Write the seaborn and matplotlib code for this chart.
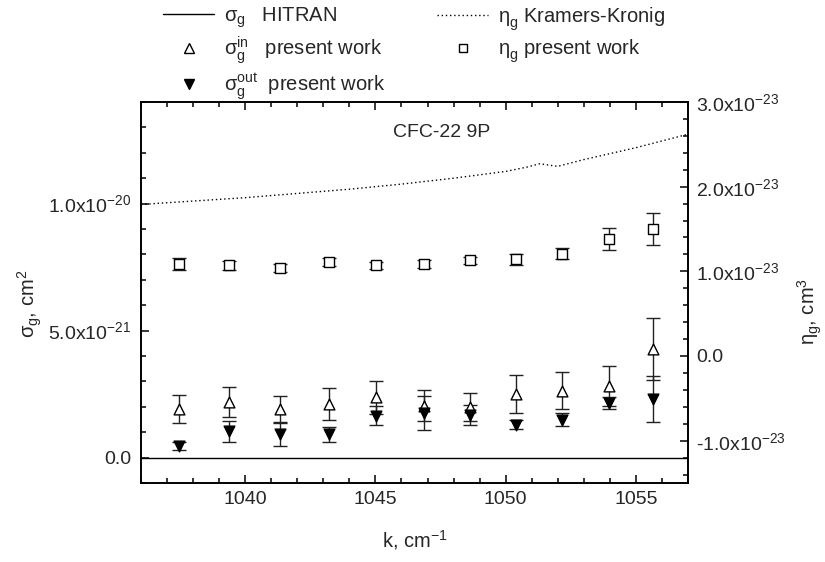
import matplotlib
matplotlib.use("Agg")
import matplotlib.pyplot as plt
import seaborn as sns
import numpy as np
import pandas as pd
from matplotlib.ticker import FixedLocator, FixedFormatter, MultipleLocator
from matplotlib.lines import Line2D

# ---------------- data ----------------
k_meas = [1037.47, 1039.39, 1041.33, 1043.21, 1045.02, 1046.87, 1048.62, 1050.41, 1052.18, 1053.95, 1055.65]
# sigma values in units of 1e-21 cm^2
sigma_in = [1.92, 2.18, 1.92, 2.11, 2.37, 2.05, 2.00, 2.51, 2.64, 2.81, 4.29]
sigma_in_err = [0.56, 0.60, 0.52, 0.62, 0.66, 0.62, 0.56, 0.75, 0.72, 0.78, 1.22]
sigma_out = [0.47, 1.04, 0.91, 0.91, 1.65, 1.76, 1.69, 1.30, 1.50, 2.15, 2.32]
sigma_out_err = [0.16, 0.41, 0.46, 0.28, 0.37, 0.66, 0.39, 0.18, 0.26, 0.25, 0.91]
# eta values in units of 1e-23 cm^3
eta_meas = [1.09, 1.07, 1.04, 1.11, 1.07, 1.09, 1.13, 1.14, 1.21, 1.38, 1.50]
eta_err = [0.07, 0.05, 0.05, 0.045, 0.045, 0.045, 0.045, 0.06, 0.07, 0.13, 0.19]

k_hitran = [1036.0, 1057.0]
sigma_hitran = [0.0, 0.0]

k_kk = [1036, 1038, 1040, 1042, 1044, 1046, 1048, 1050, 1050.8, 1051.3, 1052.0, 1053, 1055, 1057]
eta_kk = [1.79, 1.83, 1.87, 1.92, 1.97, 2.03, 2.10, 2.18, 2.23, 2.27, 2.24, 2.32, 2.46, 2.62]

left_ticks = [0, 5, 10]
left_labels = ["0.0", r"5.0x10$^{-21}$", r"1.0x10$^{-20}$"]
right_ticks = [-1, 0, 1, 2, 3]
right_labels = [r"-1.0x10$^{-23}$", "0.0", r"1.0x10$^{-23}$", r"2.0x10$^{-23}$", r"3.0x10$^{-23}$"]
x_ticks = [1040, 1045, 1050, 1055]

# ---------------- style ----------------
sns.set_theme(style="ticks")
plt.rcParams["font.family"] = ["Liberation Sans", "DejaVu Sans"]
plt.rcParams["mathtext.fontset"] = "custom"
plt.rcParams["mathtext.rm"] = "Liberation Sans"
plt.rcParams["mathtext.it"] = "Liberation Sans:italic"
plt.rcParams["mathtext.default"] = "regular"

FS_TICK = 14
FS_LAB = 14.5
FS_LEG = 14.5

fig, ax = plt.subplots(figsize=(8.25, 5.62), dpi=100)
fig.subplots_adjust(left=141 / 825, right=688 / 825, bottom=1 - 483 / 562, top=1 - 102 / 562)

# HITRAN line
sns.lineplot(x=k_hitran, y=sigma_hitran, ax=ax, color="black", lw=1.0, legend=False)

# sigma in / out error bars and markers
ax.errorbar(k_meas, sigma_in, yerr=sigma_in_err, fmt="none", ecolor="#222222",
            elinewidth=1.0, capsize=5, capthick=1.0, zorder=2)
ax.errorbar(k_meas, sigma_out, yerr=sigma_out_err, fmt="none", ecolor="#222222",
            elinewidth=1.0, capsize=5, capthick=1.0, zorder=2)
sns.scatterplot(x=k_meas, y=sigma_in, ax=ax, marker="^", s=60, facecolor="white",
                edgecolor="black", linewidth=1.0, zorder=3, legend=False)
sns.scatterplot(x=k_meas, y=sigma_out, ax=ax, marker="v", s=60, color="black",
                edgecolor="black", linewidth=1.0, zorder=3, legend=False)

ax2 = ax.twinx()
sns.lineplot(x=k_kk, y=eta_kk, ax=ax2, color="black", lw=1.0, linestyle=(0, (1, 2)), legend=False)
ax2.errorbar(k_meas, eta_meas, yerr=eta_err, fmt="none", ecolor="#222222",
             elinewidth=1.0, capsize=5, capthick=1.0, zorder=2)
sns.scatterplot(x=k_meas, y=eta_meas, ax=ax2, marker="s", s=45, facecolor="white",
                edgecolor="black", linewidth=1.0, zorder=3, legend=False)

# ---------------- axes ----------------
ax.set_xlim(1036, 1057)
ax.set_ylim(-1, 14)
ax2.set_ylim(-1.5, 3.0)

ax.xaxis.set_major_locator(FixedLocator(x_ticks))
ax.xaxis.set_minor_locator(MultipleLocator(1))
ax.yaxis.set_major_locator(FixedLocator(left_ticks))
ax.yaxis.set_major_formatter(FixedFormatter(left_labels))
ax.yaxis.set_minor_locator(MultipleLocator(1))
ax2.yaxis.set_major_locator(FixedLocator(right_ticks))
ax2.yaxis.set_major_formatter(FixedFormatter(right_labels))
ax2.yaxis.set_minor_locator(MultipleLocator(0.2))

ax.tick_params(axis="x", which="both", direction="in", top=True, bottom=True,
               labelsize=FS_TICK, pad=6, color="black")
ax.tick_params(axis="y", which="both", direction="in", left=True, right=False,
               labelsize=FS_TICK, pad=7, color="black")
ax2.tick_params(axis="y", which="both", direction="in", right=True,
                labelsize=FS_TICK, pad=6, color="black")
for a in (ax, ax2):
    a.tick_params(which="major", length=6, width=1.1)
    a.tick_params(which="minor", length=3.5, width=1.1)
    for s in a.spines.values():
        s.set_linewidth(1.2)
        s.set_color("black")
    a.set_xlabel("")
    a.set_ylabel("")

ax.set_xlabel(r"k, cm$^{-1}$", fontsize=FS_LAB)
ax.xaxis.set_label_coords(0.5, -(540 - 483) / 381)
ax.xaxis.label.set_va("center")
ax.set_ylabel(r"$\sigma_g$, cm$^2$", fontsize=FS_LAB)
ax.yaxis.set_label_coords((30 - 141) / 547, 0.47)
ax.yaxis.label.set_va("center")
ax2.set_ylabel(r"$\eta_g$, cm$^3$", fontsize=FS_LAB, rotation=90)
ax2.yaxis.set_label_coords((810 - 141) / 547, 0.45)
ax2.yaxis.label.set_va("center")

ax.text(0.55, 0.92, "CFC-22 9P", transform=ax.transAxes, ha="center", va="center", fontsize=14)

# ---------------- legends ----------------
h1 = [Line2D([], [], color="black", lw=1.0),
      Line2D([], [], ls="none", marker="^", ms=7, mfc="white", mec="black", mew=1.0),
      Line2D([], [], ls="none", marker="v", ms=7, mfc="black", mec="black", mew=1.0)]
l1 = [r"$\sigma_g$   HITRAN", r"$\sigma_g^{in}$   present work", r"$\sigma_g^{out}$  present work"]
h2 = [Line2D([], [], color="black", lw=1.0, ls=(0, (1, 2))),
      Line2D([], [], ls="none", marker="s", ms=6, mfc="white", mec="black", mew=1.0)]
l2 = [r"$\eta_g^{\ }$ Kramers-Kronig", r"$\eta_g^{\ }$ present work"]

common = dict(loc="upper left", frameon=False, fontsize=FS_LEG, handlelength=2.55,
              handletextpad=0.5, borderpad=0, borderaxespad=0, labelspacing=0.25)
leg1 = fig.legend(h1, l1, bbox_to_anchor=(163 / 825, 1 - 5 / 562), **common)
leg2 = fig.legend(h2, l2, bbox_to_anchor=(437 / 825, 1 - 5 / 562), **common)

fig.savefig("out.png", dpi=100)
